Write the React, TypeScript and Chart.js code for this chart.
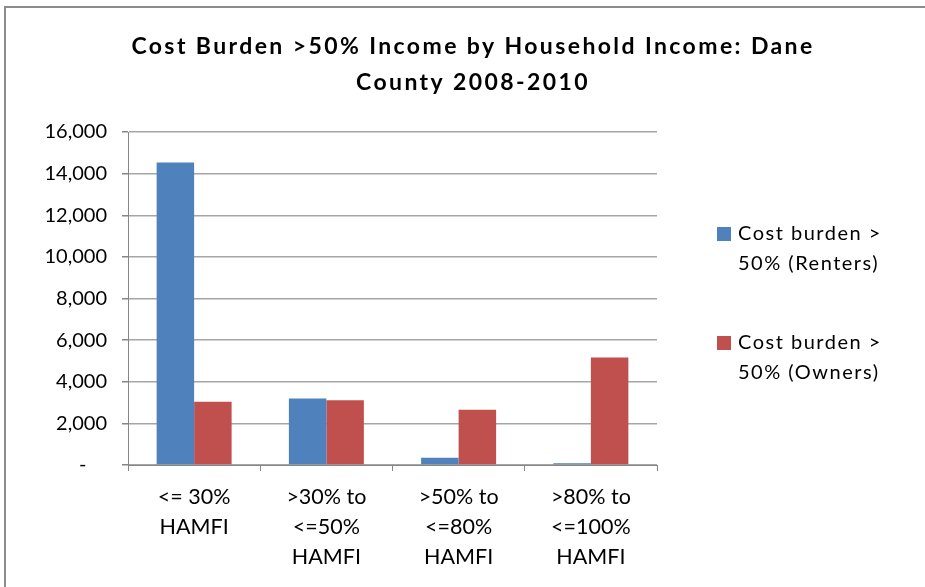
import React, { useEffect, useRef } from 'react';
import { Chart, registerables } from 'chart.js';

Chart.register(...registerables);

const titleLines = ['Cost Burden >50% Income by Household Income: Dane', 'County 2008-2010'];
const categories = [
  ['<= 30%', 'HAMFI'],
  ['>30% to', '<=50%', 'HAMFI'],
  ['>50% to', '<=80%', 'HAMFI'],
  ['>80% to', '<=100%', 'HAMFI'],
];
const seriesNames = [
  ['Cost burden >', '50% (Renters)'],
  ['Cost burden >', '50% (Owners)'],
];
const renters = [14540, 3190, 350, 80];
const owners = [3040, 3110, 2660, 5170];
const yMin = 0;
const yMax = 16000;
const yStep = 2000;

const BLUE = '#4F81BD';
const RED = '#C0504D';
const FONT = 'Lato, "Open Sans", sans-serif';

export default function App() {
  const ref = useRef<HTMLCanvasElement | null>(null);

  useEffect(() => {
    if (!ref.current) return;
    const overlay = {
      id: 'overlay',
      afterDraw(chart: any) {
        const ctx = chart.ctx;
        ctx.save();
        ctx.fillStyle = '#8c8c8c';
        ctx.fillRect(4, 6, 2, 581);
        ctx.fillRect(4, 6, 921, 2);
        ctx.fillStyle = '#000';
        ctx.textAlign = 'center';
        ctx.textBaseline = 'middle';
        ctx.font = `bold 23px ${FONT}`;
        ctx.letterSpacing = '2.4px';
        ctx.fillText(titleLines[0], 473, 47);
        ctx.fillText(titleLines[1], 473, 83);
        const colors = [BLUE, RED];
        const tops = [234, 343];
        ctx.textAlign = 'left';
        ctx.font = `20px ${FONT}`;
        ctx.letterSpacing = '1.5px';
        seriesNames.forEach((lines, i) => {
          ctx.fillStyle = colors[i];
          ctx.fillRect(717, tops[i] - 7, 14, 14);
          ctx.fillStyle = '#000';
          lines.forEach((t, j) => ctx.fillText(t, 738, tops[i] + j * 30));
        });
        ctx.letterSpacing = '0px';
        ctx.restore();
      },
    };
    const chart = new Chart(ref.current, {
      type: 'bar',
      data: {
        labels: categories,
        datasets: [
          { label: seriesNames[0].join(' '), data: renters, backgroundColor: BLUE, borderWidth: 0 },
          { label: seriesNames[1].join(' '), data: owners, backgroundColor: RED, borderWidth: 0 },
        ],
      },
      options: {
        animation: false,
        responsive: false,
        layout: { padding: { left: 0, right: 268, top: 132, bottom: 0 } },
        plugins: { legend: { display: false }, title: { display: false }, tooltip: { enabled: false } },
        datasets: { bar: { categoryPercentage: 0.567, barPercentage: 1 } },
        scales: {
          x: {
            offset: true,
            grid: { display: true, drawOnChartArea: false, drawTicks: true, tickLength: 6, color: '#868686' },
            border: { color: '#868686', width: 1 },
            ticks: { color: '#000', font: { family: FONT, size: 21.5, lineHeight: 30 / 21.5 }, padding: 11, maxRotation: 0, autoSkip: false },
            afterFit: (s: any) => { s.height = 122; },
          },
          y: {
            min: yMin,
            max: yMax,
            grid: { color: '#A6A6A6', lineWidth: 1.5, tickLength: 6, tickColor: '#868686' },
            border: { color: '#868686', width: 1 },
            ticks: {
              stepSize: yStep,
              color: '#000',
              padding: 15,
              font: { family: FONT, size: 20 },
              callback: (v: any) => (Number(v) === 0 ? '-    ' : Number(v).toLocaleString('en-US')),
            },
            afterFit: (s: any) => { s.width = 128; },
          },
        },
      },
      plugins: [overlay],
    });
    return () => chart.destroy();
  }, []);

  return (
    <div style={{ position: 'fixed', left: 0, top: 0, width: 925, height: 587, background: '#fff', overflow: 'hidden' }}>
      <canvas ref={ref} width={925} height={587} style={{ position: 'absolute', left: 0, top: 0, display: 'block' }} />
    </div>
  );
}
